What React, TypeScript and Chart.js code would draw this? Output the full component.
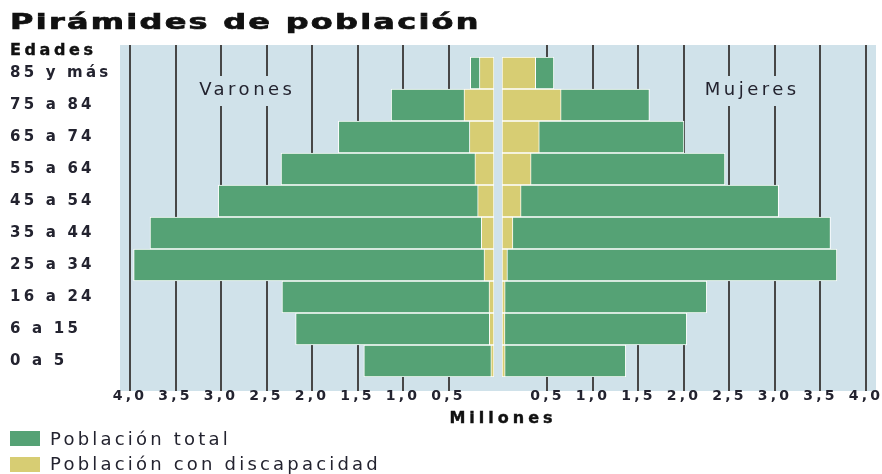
import React, { useEffect, useRef } from 'react';
import { Chart, registerables } from 'chart.js';

Chart.register(...registerables);

const title = 'Pirámides de población';
const ageHeader = 'Edades';
const axisTitle = 'Millones';
const categories = ['85 y más', '75 a 84', '65 a 74', '55 a 64', '45 a 54', '35 a 44', '25 a 34', '16 a 24', '6 a 15', '0 a 5'];
const seriesNames = ['Población total', 'Población con discapacidad'];
const varonesTotal = [0.26, 1.13, 1.71, 2.34, 3.03, 3.78, 3.96, 2.33, 2.18, 1.43];
const varonesDisc = [0.16, 0.33, 0.27, 0.21, 0.18, 0.14, 0.11, 0.055, 0.052, 0.035];
const mujeresTotal = [0.57, 1.62, 2.0, 2.45, 3.04, 3.61, 3.68, 2.25, 2.03, 1.36];
const mujeresDisc = [0.37, 0.65, 0.41, 0.32, 0.21, 0.12, 0.06, 0.035, 0.033, 0.035];
const sideLabels = ['Varones', 'Mujeres'];
const sideLabelValue = 2.73;
const tickStep = 0.5;
const axisMax = 4.11;

const GREEN = '#55a275';
const YELLOW = '#d7cd73';
const BG = '#d0e2ea';
const GRID = '#474747';
const TEXT = '#23232f';
const FONT = "'DejaVu Sans', sans-serif";
const seriesColors = [GREEN, YELLOW];

const pyramidPlugin = {
  id: 'pyramidDecor',
  beforeDraw(chart: any, _args: any, opts: any) {
    const { ctx, chartArea } = chart;
    const x = chart.scales.x;
    const top = chartArea.top - 12;
    const bottom = chartArea.bottom + 14;
    const bl = opts.bgLeft != null ? opts.bgLeft : chartArea.left;
    const br = opts.bgRight != null ? opts.bgRight : chartArea.right;
    ctx.save();
    ctx.fillStyle = BG;
    ctx.fillRect(bl, top, br - bl, bottom - top);
    ctx.strokeStyle = GRID;
    ctx.lineWidth = 2;
    x.ticks.forEach((t: any) => {
      if (t.value === 0) return;
      const px = Math.round(x.getPixelForValue(t.value));
      ctx.beginPath();
      ctx.moveTo(px, top);
      ctx.lineTo(px, bottom);
      ctx.stroke();
    });
    const lx = x.getPixelForValue(opts.labelValue);
    const ly = chartArea.top + 33;
    ctx.font = `18px ${FONT}`;
    (ctx as any).letterSpacing = '3.5px';
    const w = ctx.measureText(opts.label).width;
    ctx.fillStyle = BG;
    ctx.fillRect(lx - w / 2 - 8, chartArea.top + 19, w + 16, 30);
    ctx.fillStyle = TEXT;
    ctx.textAlign = 'center';
    ctx.textBaseline = 'middle';
    ctx.fillText(opts.label, lx + 1.75, ly);
    ctx.restore();
    (ctx as any).letterSpacing = '3.2px';
  },
  afterDatasetsDraw(chart: any) {
    (chart.ctx as any).letterSpacing = '0.8px';
  },
};

function makeConfig(total: number[], disc: number[], left: boolean, label: string, bgLeft: number | null, bgRight: number | null, width: number): any {
  return {
    type: 'bar',
    data: {
      labels: categories,
      datasets: [
        {
          label: seriesNames[1],
          data: disc,
          backgroundColor: YELLOW,
          borderColor: '#ffffff',
          borderWidth: 1,
          borderSkipped: false,
          order: 0,
        },
        {
          label: seriesNames[0],
          data: total,
          backgroundColor: GREEN,
          borderColor: '#ffffff',
          borderWidth: 1,
          borderSkipped: false,
          order: 1,
        },
      ],
    },
    options: {
      responsive: false,
      animation: false,
      indexAxis: 'y',
      layout: { padding: left ? { left: 10, right: 4, top: 57, bottom: 57 } : { left: 4, right: width - 378, top: 57, bottom: 57 } },
      datasets: { bar: { grouped: false, barPercentage: 1, categoryPercentage: 1 } },
      plugins: {
        legend: { display: false },
        tooltip: { enabled: false },
        pyramidDecor: { label, labelValue: sideLabelValue, bgLeft, bgRight },
      },
      scales: {
        x: {
          type: 'linear',
          reverse: left,
          min: 0,
          max: axisMax,
          z: 1,
          grid: { display: false, drawTicks: false },
          border: { display: false },
          afterFit: (s: any) => { s.height = 40; s.paddingLeft = 0; s.paddingRight = 0; },
          ticks: {
            stepSize: tickStep,
            includeBounds: false,
            autoSkip: false,
            maxRotation: 0,
            padding: 11,
            color: TEXT,
            font: { family: FONT, size: 14, weight: 'bold' },
            callback: (v: any) => (Number(v) === 0 ? '' : Number(v).toFixed(1).replace('.', ',')),
          },
        },
        y: {
          type: 'category',
          display: left,
          grid: { display: false, drawTicks: false },
          border: { display: false },
          afterFit: (s: any) => { if (left) s.width = 110; },
          ticks: {
            crossAlign: 'far',
            padding: 0,
            color: TEXT,
            font: { family: FONT, size: 15, weight: 'bold' },
          },
        },
      },
    },
    plugins: [pyramidPlugin],
  };
}

export default function App() {
  const leftRef = useRef<HTMLCanvasElement>(null);
  const rightRef = useRef<HTMLCanvasElement>(null);

  useEffect(() => {
    const lc = new Chart(leftRef.current as HTMLCanvasElement, makeConfig(varonesTotal, varonesDisc, true, sideLabels[0], null, 498, 498));
    const rc = new Chart(rightRef.current as HTMLCanvasElement, makeConfig(mujeresTotal, mujeresDisc, false, sideLabels[1], 0, null, 384));
    return () => {
      lc.destroy();
      rc.destroy();
    };
  }, []);

  const txt: React.CSSProperties = { position: 'absolute', fontFamily: FONT, color: TEXT, whiteSpace: 'nowrap' };

  return (
    <div style={{ position: 'fixed', left: 0, top: 0, width: 882, height: 474, background: '#ffffff', overflow: 'hidden' }}>
      <canvas ref={leftRef} width={498} height={474} style={{ position: 'absolute', left: 0, top: 0, width: 498, height: 474 }} />
      <canvas ref={rightRef} width={384} height={474} style={{ position: 'absolute', left: 498, top: 0, width: 384, height: 474 }} />
      <div style={{ ...txt, left: 10, top: 12, fontSize: 21, lineHeight: '21px', fontWeight: 700, letterSpacing: '1.5px', transform: 'scaleX(1.52)', transformOrigin: 'left top', color: '#111', WebkitTextStroke: '0.7px #111' }}>{title}</div>
      <div style={{ ...txt, left: 10, top: 42, fontSize: 16, lineHeight: '16px', fontWeight: 700, letterSpacing: '3.6px', color: '#111', WebkitTextStroke: '0.4px #111' }}>{ageHeader}</div>
      <div style={{ ...txt, left: 503, top: 410, fontSize: 16, lineHeight: '16px', fontWeight: 700, letterSpacing: '4px', transform: 'translateX(-50%)', color: '#111', WebkitTextStroke: '0.4px #111' }}>{axisTitle}</div>
      {seriesNames.map((name, i) => (
        <React.Fragment key={name}>
          <div style={{ position: 'absolute', left: 10, top: 431 + i * 25.7, width: 30, height: 15, background: seriesColors[i] }} />
          <div style={{ ...txt, left: 50, top: 430 + i * 25, fontSize: 18, lineHeight: '18px', letterSpacing: '3.2px' }}>{name}</div>
        </React.Fragment>
      ))}
    </div>
  );
}
